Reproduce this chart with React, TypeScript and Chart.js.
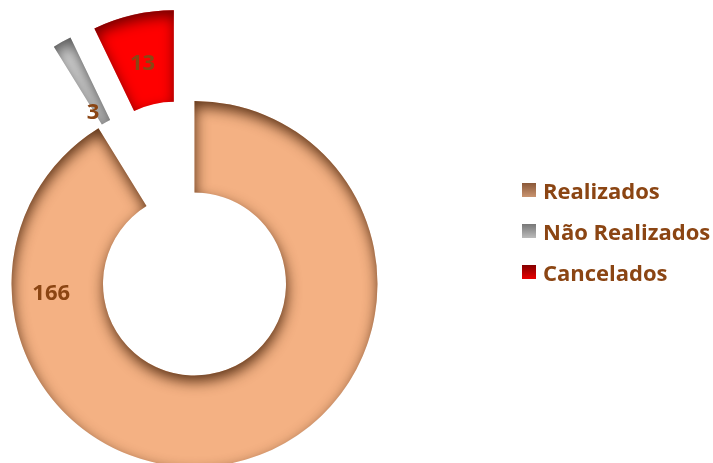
import React, { useEffect, useRef } from 'react';
import { Chart, registerables } from 'chart.js';

Chart.register(...registerables);

// ---- data ----
const categories = ['Realizados', 'Não Realizados', 'Cancelados'];
const values = [166, 3, 13];

// ---- styles ----
const sliceColors = ['#F4B183', '#D8D8D8', '#FF0000'];
const shadowColors = ['rgba(75,38,12,0.9)', 'rgba(55,55,55,0.8)', 'rgba(95,0,0,0.9)'];
const explode = [0, 93, 93];
const labelAngles = [266, 327.6, 346.5]; // degrees clockwise from 12 o'clock
const labelDepth = [0.57, 0.16, 0.46]; // fraction of ring thickness
const legendSwatches = [
  'linear-gradient(to bottom, #8A5838, #C99470)',
  'linear-gradient(to bottom, #777777, #BBBBBB)',
  'linear-gradient(to bottom, #850000, #E80000)',
];
const TEXT_COLOR = '#8B4513';
const FONT = '"Open Sans", "DejaVu Sans", sans-serif';

function centerOf(chart: any) {
  const ca = chart.chartArea;
  const ctrl: any = chart.getDatasetMeta(0).controller;
  return {
    x: (ca.left + ca.right) / 2 + (ctrl.offsetX || 0),
    y: (ca.top + ca.bottom) / 2 + (ctrl.offsetY || 0),
  };
}

const explodePlugin = {
  id: 'explodeSlices',
  beforeDatasetsDraw(chart: any) {
    const c = centerOf(chart);
    chart.getDatasetMeta(0).data.forEach((arc: any, i: number) => {
      const e = explode[i] || 0;
      const mid = (arc.startAngle + arc.endAngle) / 2;
      arc.x = c.x + Math.cos(mid) * e;
      arc.y = c.y + Math.sin(mid) * e;
    });
  },
};

function ringPath(ctx: CanvasRenderingContext2D, a: any, dx = 0) {
  ctx.moveTo(a.x + dx + Math.cos(a.startAngle) * a.outerRadius, a.y + Math.sin(a.startAngle) * a.outerRadius);
  ctx.arc(a.x + dx, a.y, a.outerRadius, a.startAngle, a.endAngle);
  ctx.arc(a.x + dx, a.y, a.innerRadius, a.endAngle, a.startAngle, true);
  ctx.closePath();
}

const innerShadowPlugin = {
  id: 'innerShadow',
  afterDatasetsDraw(chart: any) {
    const ctx: CanvasRenderingContext2D = chart.ctx;
    const dpr = chart.currentDevicePixelRatio || 1;
    const OFF = 5000;
    chart.getDatasetMeta(0).data.forEach((a: any, i: number) => {
      ctx.save();
      ctx.beginPath();
      ringPath(ctx, a);
      ctx.clip();
      ctx.beginPath();
      ctx.rect(OFF - 3000, -3000, 7000, 7000);
      ringPath(ctx, a, OFF);
      ctx.shadowColor = shadowColors[i];
      ctx.shadowBlur = 14 * dpr;
      ctx.shadowOffsetX = (-OFF + 1) * dpr;
      ctx.shadowOffsetY = 6 * dpr;
      ctx.fillStyle = '#000';
      ctx.fill('evenodd');
      ctx.restore();
    });
  },
};

const valueLabelPlugin = {
  id: 'valueLabels',
  afterDatasetsDraw(chart: any) {
    const ctx: CanvasRenderingContext2D = chart.ctx;
    ctx.save();
    ctx.font = `bold 22px ${FONT}`;
    ctx.fillStyle = TEXT_COLOR;
    ctx.textAlign = 'center';
    ctx.textBaseline = 'middle';
    chart.getDatasetMeta(0).data.forEach((a: any, i: number) => {
      const ang = ((labelAngles[i] - 90) * Math.PI) / 180;
      const r = a.innerRadius + (a.outerRadius - a.innerRadius) * labelDepth[i];
      ctx.fillText(String(values[i]), a.x + Math.cos(ang) * r, a.y + Math.sin(ang) * r);
    });
    ctx.restore();
  },
};

export default function App() {
  const ref = useRef<HTMLCanvasElement | null>(null);

  useEffect(() => {
    if (!ref.current) return;
    const chart = new Chart(ref.current, {
      type: 'doughnut',
      data: {
        labels: categories,
        datasets: [
          {
            data: values,
            backgroundColor: sliceColors,
            borderWidth: 0,
            clip: false as any,
          } as any,
        ],
      },
      options: {
        responsive: false,
        animation: false,
        radius: 183,
        cutout: '50%',
        events: [],
        layout: { padding: { left: 0, right: 324, top: 105, bottom: 0 } },
        plugins: {
          legend: { display: false },
          tooltip: { enabled: false },
        },
      } as any,
      plugins: [explodePlugin, innerShadowPlugin, valueLabelPlugin],
    });
    return () => chart.destroy();
  }, []);

  return (
    <div style={{ position: 'absolute', left: 0, top: 0, width: 713, height: 463, background: '#fff', overflow: 'hidden' }}>
      <canvas ref={ref} width={713} height={463} style={{ position: 'absolute', left: 0, top: 0, width: 713, height: 463 }} />
      <div
        style={{
          position: 'absolute',
          left: 522,
          top: 179,
          fontFamily: FONT,
          fontWeight: 700,
          fontSize: 22,
          lineHeight: '22px',
          color: TEXT_COLOR,
          whiteSpace: 'nowrap',
        }}
      >
        {categories.map((c, i) => (
          <div key={c} style={{ display: 'flex', alignItems: 'center', height: 22, marginBottom: 19 }}>
            <span style={{ display: 'inline-block', width: 14, height: 14, background: legendSwatches[i], marginRight: 7, flex: 'none' }} />
            <span>{c}</span>
          </div>
        ))}
      </div>
    </div>
  );
}
